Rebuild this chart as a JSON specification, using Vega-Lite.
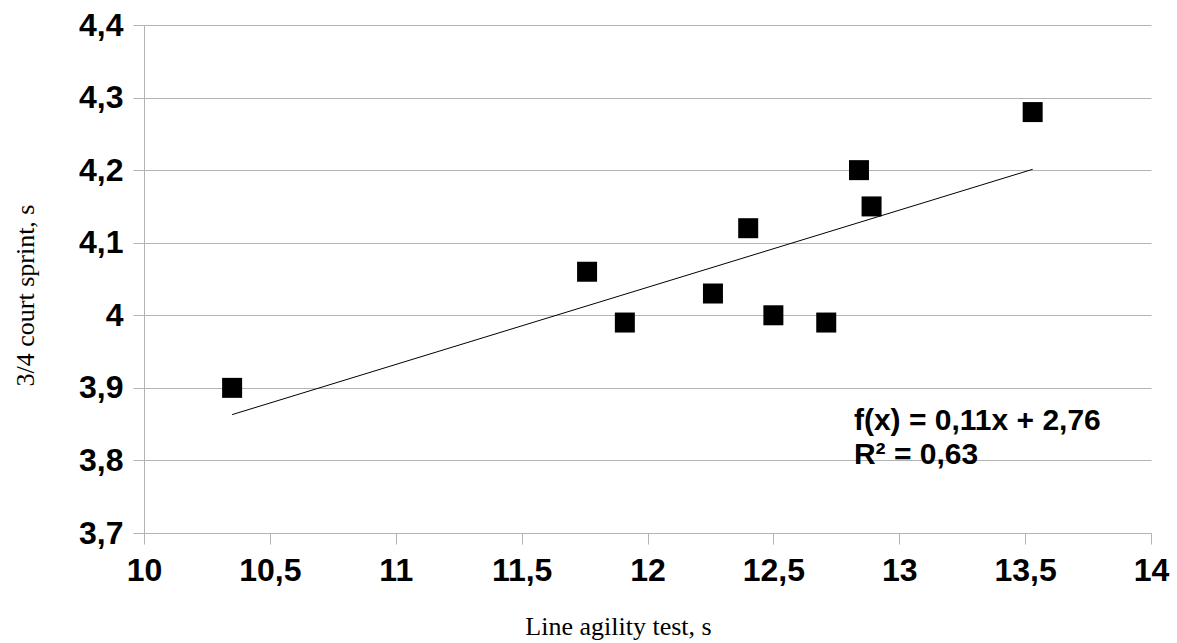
{
  "$schema": "https://vega.github.io/schema/vega-lite/v6.json",
  "width": 1007,
  "height": 508,
  "autosize": {"type": "none"},
  "padding": {"left": 144, "top": 25, "right": 26, "bottom": 110},
  "background": "white",
  "config": {
    "view": {"stroke": null},
    "font": "Liberation Sans"
  },
  "datasets": {
    "pts": [
      {"agility": 10.35, "sprint": 3.90},
      {"agility": 11.76, "sprint": 4.06},
      {"agility": 11.91, "sprint": 3.99},
      {"agility": 12.26, "sprint": 4.03},
      {"agility": 12.40, "sprint": 4.12},
      {"agility": 12.50, "sprint": 4.00},
      {"agility": 12.71, "sprint": 3.99},
      {"agility": 12.84, "sprint": 4.20},
      {"agility": 12.89, "sprint": 4.15},
      {"agility": 13.53, "sprint": 4.28}
    ],
    "notes": [
      {"agility": 12.82, "sprint": 3.842, "label": "f(x) = 0,11x + 2,76"},
      {"agility": 12.82, "sprint": 3.795, "label": "R² = 0,63"}
    ]
  },
  "layer": [
    {
      "data": {"name": "pts"},
      "mark": {"type": "point", "shape": "square", "filled": true, "color": "black", "size": 400, "opacity": 1},
      "encoding": {
        "x": {
          "field": "agility", "type": "quantitative",
          "scale": {"domain": [10, 14], "nice": false, "zero": false},
          "axis": {
            "title": "Line agility test, s",
            "titleFont": "Liberation Serif", "titleFontWeight": "normal", "titleFontSize": 26, "titleColor": "black",
            "titleX": 474, "titleY": 101, "titleAlign": "center", "titleBaseline": "alphabetic",
            "values": [10, 10.5, 11, 11.5, 12, 12.5, 13, 13.5, 14],
            "format": "~g",
            "labelExpr": "replace(datum.label, '.', ',')",
            "labelFont": "Liberation Sans", "labelFontWeight": "bold", "labelFontSize": 32, "labelColor": "black",
            "labelPadding": 11, "labelFlush": false, "labelOverlap": false,
            "grid": false, "domainColor": "#b3b3b3", "tickColor": "#b3b3b3", "tickSize": 11
          }
        },
        "y": {
          "field": "sprint", "type": "quantitative",
          "scale": {"domain": [3.7, 4.4], "nice": false, "zero": false},
          "axis": {
            "title": "3/4 court sprint, s",
            "titleFont": "Liberation Serif", "titleFontWeight": "normal", "titleFontSize": 26, "titleColor": "black",
            "titleX": -111, "titleY": 270, "titleAlign": "center", "titleBaseline": "alphabetic", "titleAngle": 270,
            "values": [3.7, 3.8, 3.9, 4.0, 4.1, 4.2, 4.3, 4.4],
            "format": "~g",
            "labelExpr": "replace(datum.label, '.', ',')",
            "labelFont": "Liberation Sans", "labelFontWeight": "bold", "labelFontSize": 32, "labelColor": "black",
            "labelPadding": 10, "labelFlush": false, "labelOverlap": false,
            "grid": true, "gridColor": "#b3b3b3", "gridWidth": 1,
            "domainColor": "#b3b3b3", "tickColor": "#b3b3b3", "tickSize": 11
          }
        }
      }
    },
    {
      "data": {"name": "pts"},
      "transform": [{"regression": "sprint", "on": "agility"}],
      "mark": {"type": "line", "color": "black", "strokeWidth": 1},
      "encoding": {
        "x": {"field": "agility", "type": "quantitative"},
        "y": {"field": "sprint", "type": "quantitative"}
      }
    },
    {
      "data": {"name": "notes"},
      "mark": {"type": "text", "align": "left", "baseline": "alphabetic", "font": "Liberation Sans", "fontWeight": "bold", "fontSize": 30, "color": "black"},
      "encoding": {
        "x": {"field": "agility", "type": "quantitative"},
        "y": {"field": "sprint", "type": "quantitative"},
        "text": {"field": "label"}
      }
    }
  ]
}
